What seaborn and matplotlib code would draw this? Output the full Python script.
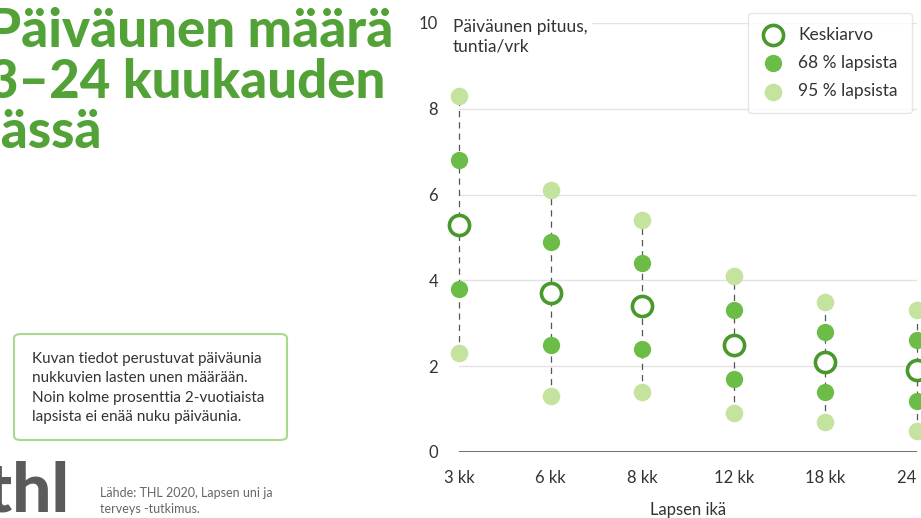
import matplotlib
matplotlib.use("Agg")
import matplotlib.pyplot as plt
from matplotlib.patches import FancyBboxPatch
import seaborn as sns
import numpy as np
import pandas as pd

# data (hours of daytime nap per day)
ages = ['3 kk', '6 kk', '8 kk', '12 kk', '18 kk', '24 kk']
mean = [5.3, 3.7, 3.4, 2.5, 2.1, 1.9]
low68 = [3.8, 2.5, 2.4, 1.7, 1.4, 1.2]
high68 = [6.8, 4.9, 4.4, 3.3, 2.8, 2.6]
low95 = [2.3, 1.3, 1.4, 0.9, 0.7, 0.5]
high95 = [8.3, 6.1, 5.4, 4.1, 3.5, 3.3]
yticks = [0, 2, 4, 6, 8, 10]

dark_green = '#48982c'
mid_green = '#6cbd48'
light_green = '#c3e39e'
title_green = '#52a237'
text_col = '#333333'

sns.set_theme(style="white")
plt.rcParams['font.family'] = ['Lato', 'DejaVu Sans']

pos = np.arange(len(ages))
df = pd.DataFrame({'pos': pos, 'mean': mean, 'low68': low68, 'high68': high68,
                   'low95': low95, 'high95': high95})

fig = plt.figure(figsize=(9.21, 5.18), dpi=100)
W, H = 921, 518
ax = fig.add_axes([459 / W, 1 - 452 / H, (917 - 459) / W, (452 - 23) / H])

# grid
for t in yticks[1:]:
    ax.axhline(t, color='#e2e2e2', lw=1, zorder=0)
ax.axhline(0, color='#555555', lw=1.2, zorder=1)

# dashed range lines
ax.vlines(df['pos'], df['low95'], df['high95'], colors='#555555', lw=0.9,
          linestyles=(0, (5, 4)), zorder=2, clip_on=False)

for col in ['low95', 'high95']:
    sns.scatterplot(data=df, x='pos', y=col, color=light_green, s=160, linewidth=0,
                    zorder=3, clip_on=False, ax=ax,
                    label='95 % lapsista' if col == 'low95' else None)
for col in ['low68', 'high68']:
    sns.scatterplot(data=df, x='pos', y=col, color=mid_green, s=155, linewidth=0,
                    zorder=3, clip_on=False, ax=ax,
                    label='68 % lapsista' if col == 'low68' else None)
sns.scatterplot(data=df, x='pos', y='mean', facecolor='white', edgecolor=dark_green,
                s=210, linewidth=2.6, zorder=4, clip_on=False, ax=ax, label='Keskiarvo')

ax.set_xlim(0, len(ages) - 1)
ax.set_ylim(0, 10)
ax.set_xticks(pos)
ax.set_xticklabels(ages, fontsize=12, color=text_col)
ax.set_yticks(yticks)
ax.set_yticklabels([str(t) for t in yticks], fontsize=12, color=text_col)
ax.tick_params(axis='both', length=0)
ax.tick_params(axis='x', pad=13)
ax.tick_params(axis='y', pad=15)
ax.set_xlabel('')
ax.set_ylabel('')
sns.despine(ax=ax, left=True, bottom=True)

# legend
h, l = ax.get_legend_handles_labels()
ax.get_legend().remove()
order = [l.index('Keskiarvo'), l.index('68 % lapsista'), l.index('95 % lapsista')]
leg = fig.legend([h[i] for i in order], [l[i] for i in order],
                 loc='upper left', bbox_to_anchor=(748 / W, 1 - 13 / H), borderaxespad=0,
                 frameon=True, fontsize=12.5, labelspacing=0.7, handletextpad=0.8,
                 borderpad=0.8, handlelength=1.3, fancybox=True, markerscale=1.0)
leg.get_frame().set_edgecolor('#e0e0e0')
leg.get_frame().set_linewidth(1)
for t in leg.get_texts():
    t.set_color(text_col)

# y axis title
fig.text(453 / W, 1 - 19 / H, 'Päiväunen pituus,\ntuntia/vrk', fontsize=12.5, color=text_col,
         va='top', ha='left', linespacing=1.25,
         bbox=dict(facecolor='white', edgecolor='none', pad=3))
fig.text(688 / W, 1 - 510 / H, 'Lapsen ikä', fontsize=12, color=text_col,
         ha='center', va='center')

# title
for i, line in enumerate(['Päiväunen määrä', '3–24 kuukauden', 'iässä']):
    fig.text(-12 / W, 1 - (47 + 50.5 * i) / H, line, fontsize=38, fontweight='black',
             color=title_green, ha='left', va='baseline')

# note box
box = FancyBboxPatch((14 / W, 1 - 440 / H), (287 - 14) / W, (440 - 334) / H,
                     boxstyle='round,pad=0,rounding_size=0.008', transform=fig.transFigure,
                     facecolor='white', edgecolor='#a9d98c', lw=1.5)
fig.patches.append(box)
note = ['Kuvan tiedot perustuvat päiväunia', 'nukkuvien lasten unen määrään.',
        'Noin kolme prosenttia 2-vuotiaista', 'lapsista ei enää nuku päiväunia.']
for i, line in enumerate(note):
    fig.text(32 / W, 1 - (359 + 19.5 * i) / H, line, fontsize=11, color=text_col,
             ha='left', va='center')

# logo and source
fig.text(-14 / W, 1 - 512 / H, 'thl', fontsize=50, fontweight='black', color='#5b5b5b',
         ha='left', va='baseline')
fig.text(100 / W, 1 - 493 / H, 'Lähde: THL 2020, Lapsen uni ja', fontsize=9,
         color='#666666', ha='left', va='center')
fig.text(100 / W, 1 - 509 / H, 'terveys -tutkimus.', fontsize=9,
         color='#666666', ha='left', va='center')

fig.savefig('out.png', dpi=100)
